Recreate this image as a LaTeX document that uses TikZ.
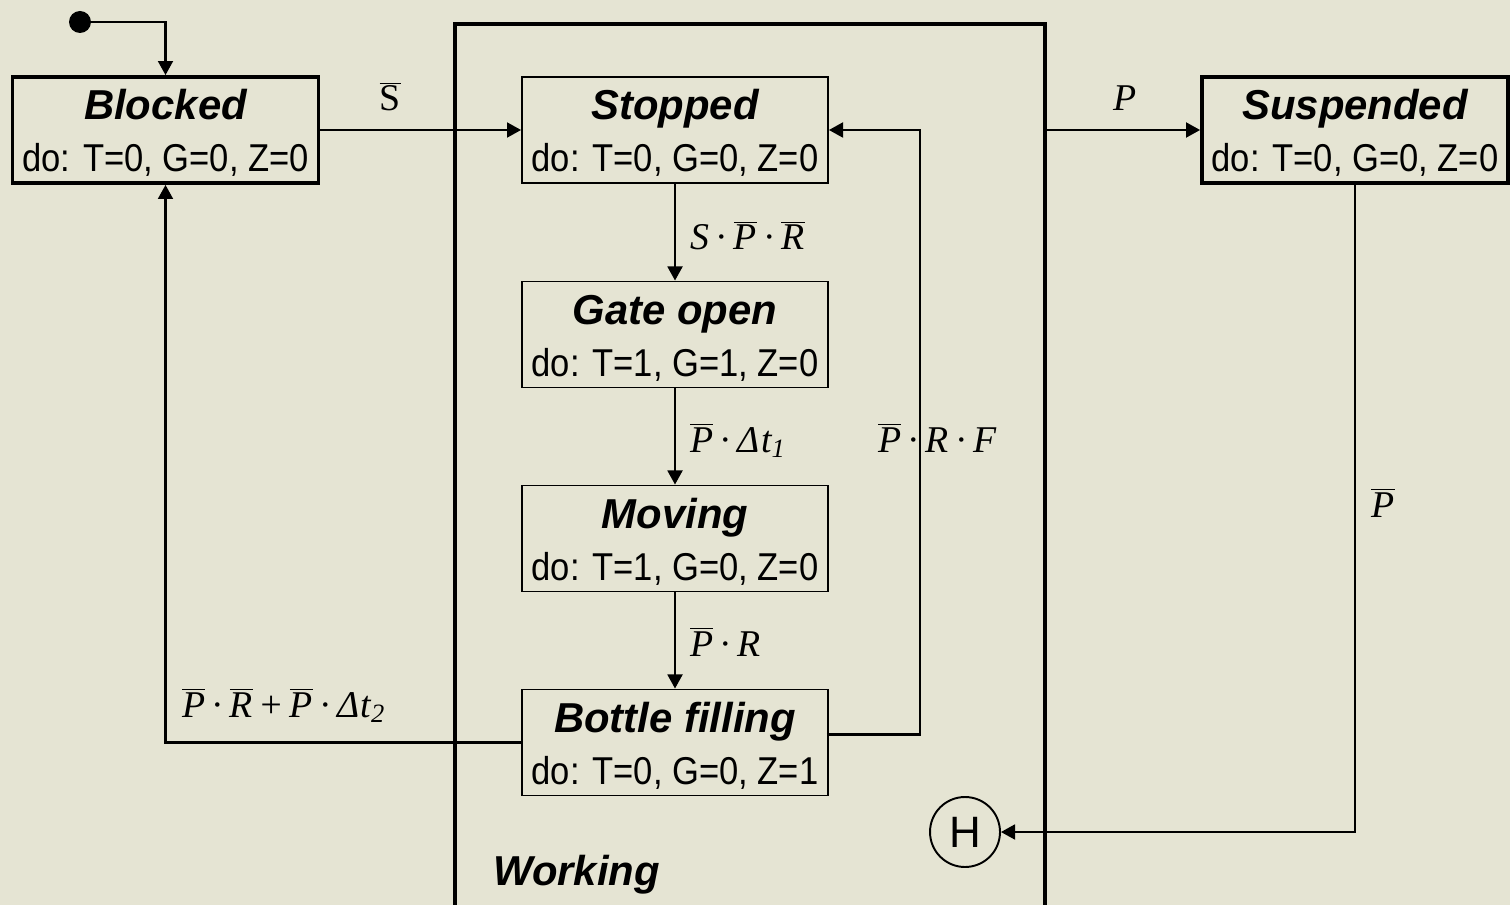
\documentclass[tikz,border=0pt]{standalone}
\usepackage{fontspec}
\setmainfont{Liberation Serif}
\newfontfamily\asans{Liberation Sans}
\newfontfamily\anarrow[FakeStretch=0.89]{Liberation Sans}
\usetikzlibrary{arrows.meta,calc}
\definecolor{bgc}{RGB}{229,228,211}
\newcommand\ovl[1]{$\overline{\hbox{#1}}$}
\newcommand\cdt{\hspace{0.2em}·\hspace{0.2em}}
\begin{document}
\begin{tikzpicture}[x=0.02cm,y=-0.02cm,
  state/.style={draw,line width=1.1pt,inner sep=0,minimum width=6.12cm,minimum height=2.12cm},
  thickstate/.style={state,line width=2.2pt},
  ttl/.style={anchor=base,inner sep=0,font=\asans\bfseries\itshape\fontsize{23.8}{28}\selectfont},
  body/.style={anchor=base,inner sep=0,font=\anarrow\fontsize{22.1}{26}\selectfont},
  lbl/.style={anchor=base west,inner sep=0,font=\itshape\fontsize{21.5}{26}\selectfont},
  conn/.style={line width=1.2pt,-{Triangle[length=8pt,width=8.5pt]}},
]
\useasboundingbox (0,0) rectangle (1510,905);
\fill[bgc] (0,0) rectangle (1510,905);
\clip (0,0) rectangle (1510,905);

% superstate
\node[draw,line width=2.2pt,inner sep=0,minimum width=11.8cm,minimum height=18.4cm] (working) at (750,484) {};
\node[ttl,anchor=base west] (workinglbl) at (493,885) {Working};

% states
\node[thickstate] (blocked) at (165.5,130) {};
\node[state] (stopped) at (675,130) {};
\node[state] (gate) at (675,334.5) {};
\node[state] (moving) at (675,538.5) {};
\node[state] (bottle) at (675,742.5) {};
\node[thickstate] (susp) at (1355,130) {};

\foreach \n/\t/\b in {blocked/Blocked/{do: T=0, G=0, Z=0},
                      stopped/Stopped/{do: T=0, G=0, Z=0},
                      gate/Gate open/{do: T=1, G=1, Z=0},
                      moving/Moving/{do: T=1, G=0, Z=0},
                      bottle/Bottle filling/{do: T=0, G=0, Z=1},
                      susp/Suspended/{do: T=0, G=0, Z=0}}{
  \node[ttl] (\n-t) at ($(\n.center)+(0,-10)$) {\t};
  \node[body] (\n-b) at ($(\n.center)+(0,42)$) {\b};
}

% initial and history
\node[circle,fill,inner sep=0,minimum size=0.44cm] (init) at (80,22) {};
\node[circle,draw,line width=1.1pt,inner sep=0,minimum size=1.4cm,font=\asans\fontsize{25}{30}\selectfont] (hist) at (965,832) {H};

% connectors
\draw[conn] (init) -| (blocked.north);
\draw[conn] (blocked.east) -- (stopped.west);
\draw[conn] (working.east |- susp.west) -- (susp.west);
\draw[conn] (stopped.south) -- (gate.north);
\draw[conn] (gate.south) -- (moving.north);
\draw[conn] (moving.south) -- (bottle.north);
\coordinate (bo) at ($(bottle.east)+(-2,-8)$);
\coordinate (rx) at (920,130);
\draw[conn] (bo) -| (rx) -- (stopped.east);
\draw[conn] (bottle.west) -| (blocked.south);
\draw[conn] (susp.south) |- (hist.east);

% labels
\node[lbl,anchor=base] (l1) at (390,111) {\upshape\ovl{S}};
\node[lbl,anchor=base] (l2) at (1125,111) {P};
\node[lbl] (l3) at (690,250) {S\cdt\ovl{P}\cdt\ovl{R}};
\node[lbl] (l4) at (690,452) {\ovl{P}\cdt Δ\kern0.5pt t\textsubscript{1}};
\node[lbl] (l5) at (878,452) {\ovl{P}\cdt R\cdt F};
\node[lbl] (l6) at (690,656) {\ovl{P}\cdt R};
\node[lbl] (l7) at (182,717) {\ovl{P}\cdt\ovl{R}\hspace{0.15em}+\hspace{0.15em}\ovl{P}\cdt Δ\kern0.5pt t\textsubscript{2}};
\node[lbl,anchor=base] (l8) at (1383,517) {\ovl{P}};
\end{tikzpicture}
\end{document}
